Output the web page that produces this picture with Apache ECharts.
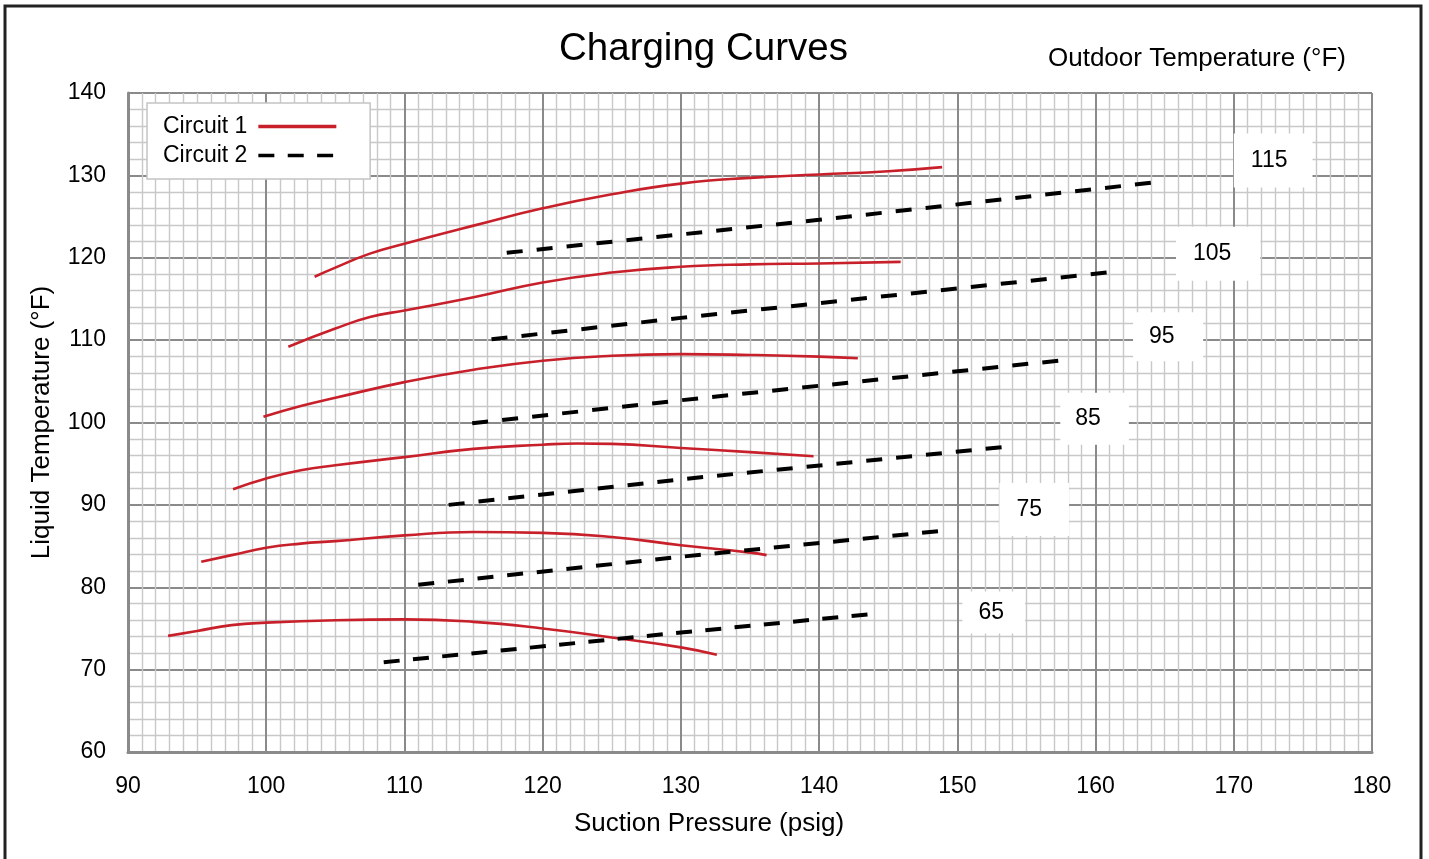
<!DOCTYPE html>
<html>
<head>
<meta charset="utf-8">
<script src="https://cdn.jsdelivr.net/npm/echarts@6/dist/echarts.min.js"></script>
<style>html,body{margin:0;padding:0;background:#fff;}#c{width:1429px;height:859px;}</style>
</head>
<body>
<div id="c"></div>
<script>
// Outdoor temperatures (°F)
const temps = ['65','75','85','95','105','115'];

// Circuit 1 curves: [suction pressure psig, liquid temperature °F]
const c1_65  = [[92.9,74.1],[95,74.7],[97.5,75.4],[100,75.7],[105,76.0],[110,76.1],[115,75.8],[120,75.0],[125,73.9],[130,72.7],[132.6,71.8]];
const c1_75  = [[95.3,83.1],[97.5,83.9],[100,84.8],[102.5,85.3],[105,85.6],[110,86.3],[115,86.7],[120,86.6],[125,86.1],[130,85.1],[135,84.2],[136.2,83.9]];
const c1_85  = [[97.6,91.9],[100,93.2],[102.5,94.2],[105,94.8],[110,95.8],[115,96.8],[120,97.3],[122.5,97.45],[125,97.4],[130,96.9],[135,96.4],[139.6,95.9]];
const c1_95  = [[99.8,100.7],[102.5,102.0],[105,103.0],[110,104.9],[115,106.4],[120,107.5],[125,108.1],[130,108.3],[135,108.2],[140,108.0],[142.8,107.8]];
const c1_105 = [[101.6,109.2],[105,111.4],[107.5,112.8],[110,113.6],[115,115.2],[120,117.0],[125,118.2],[130,118.9],[135,119.2],[140,119.3],[145.9,119.5]];
const c1_115 = [[103.5,117.7],[105,118.8],[107.5,120.5],[110,121.7],[115,123.9],[120,126.0],[125,127.7],[130,129.0],[135,129.7],[140,130.1],[145,130.5],[148.9,131.0]];

// Circuit 2 lines
const c2_65  = [[108.5,70.9],[130,74.5],[143.5,76.7]];
const c2_75  = [[111.0,80.3],[130,83.7],[148.6,86.8]];
const c2_85  = [[113.2,90.0],[130,93.1],[153.2,97.0]];
const c2_95  = [[114.9,99.9],[130,102.7],[157.3,107.5]];
const c2_105 = [[116.3,110.1],[130,112.7],[160.8,118.2]];
const c2_115 = [[117.4,120.6],[140,124.6],[164.0,129.1]];

// Temperature tag anchors in data coordinates (pressure, temperature)
const tagX = [152.63,155.56,159.93,165.25,168.87,172.85];
const tagY = [76.93,89.43,100.47,110.42,120.50,131.82];

const xTicks = [90,100,110,120,130,140,150,160,170,180];
const yTicks = [60,70,80,90,100,110,120,130,140];

const circuit1 = [c1_65,c1_75,c1_85,c1_95,c1_105,c1_115];
const circuit2 = [c2_65,c2_75,c2_85,c2_95,c2_105,c2_115];

const FONT = 'Liberation Sans, Arial, Helvetica, sans-serif';
const RED = '#c8202a';
const DASH = 16, PERIOD = 29.5;
const pads = [[11.5,21,7.5,16],[11.5,27,18.5,17],[8.5,28,20.5,15],[12.5,28.5,13.5,16],[11.5,29,19.5,17],[11,25,20,17]];

const series = [];
circuit1.forEach(d => series.push({
  name:'Circuit 1', type:'line', data:d, smooth:0.5, symbol:'none',
  lineStyle:{color:RED, width:2.6}, itemStyle:{color:RED}, z:3
}));
circuit2.forEach(d => series.push({
  name:'Circuit 2', type:'line', data:d, symbol:'none',
  lineStyle:{color:'#000', width:4, type:[DASH, PERIOD-DASH]}, itemStyle:{color:'#000'}, z:4
}));
series.push({
  type:'scatter', symbolSize:1, itemStyle:{color:'rgba(0,0,0,0)', opacity:1}, silent:true, z:5,
  data: temps.map((t,i)=>({
    value:[tagX[i],tagY[i]],
    label:{show:true, position:'inside', formatter:t, color:'#000', fontSize:23, lineHeight:23,
      fontFamily:FONT, backgroundColor:'#fff', padding:pads[i], opacity:1}
  }))
});

const chart = echarts.init(document.getElementById('c'), null, {renderer:'canvas'});
const option = {
  animation:false,
  backgroundColor:'#fff',
  textStyle:{fontFamily:FONT},
  title:[
    {text:'Charging Curves', left:554, top:25, textStyle:{fontSize:38.5, fontWeight:'normal', color:'#000', fontFamily:FONT}},
    {text:'Outdoor Temperature (°F)', left:1043, top:41, textStyle:{fontSize:26, fontWeight:'normal', color:'#000', fontFamily:FONT}}
  ],
  legend:{
    data:['Circuit 1','Circuit 2'], orient:'vertical', left:147, top:103,
    align:'right', itemWidth:78, itemHeight:14, itemGap:6,
    backgroundColor:'#fff', borderColor:'#c4c4c4', borderWidth:1.5,
    padding:[12,32,12,16],
    itemStyle:{opacity:0},
    lineStyle:{width:3.6},
    textStyle:{fontSize:23, color:'#000', fontFamily:FONT, padding:[0,6,0,0]}
  },
  grid:{left:128, right:57, top:93, bottom:107},
  xAxis:{
    type:'value', min:90, max:180, interval:10,
    name:'Suction Pressure (psig)', nameLocation:'middle', nameGap:59,
    nameTextStyle:{fontSize:26, color:'#000', fontFamily:FONT, padding:[0,82,0,0]},
    axisLine:{show:true, lineStyle:{color:'#8a8a8a', width:3}},
    axisTick:{show:false},
    axisLabel:{fontSize:23, color:'#000', margin:23, fontFamily:FONT},
    splitLine:{show:true, lineStyle:{color:'#8a8a8a', width:2}},
    minorTick:{show:false, splitNumber:10},
    minorSplitLine:{show:true, lineStyle:{color:'#c8c8c8', width:1.4}}
  },
  yAxis:{
    type:'value', min:60, max:140, interval:10,
    name:'Liquid Temperature (°F)', nameLocation:'middle', nameGap:73,
    nameTextStyle:{fontSize:26, color:'#000', fontFamily:FONT},
    axisLine:{show:true, lineStyle:{color:'#8a8a8a', width:3}},
    axisTick:{show:false},
    axisLabel:{fontSize:23, color:'#000', margin:22, fontFamily:FONT, padding:[4,0,0,0]},
    splitLine:{show:true, lineStyle:{color:'#8a8a8a', width:2}},
    minorTick:{show:false, splitNumber:5},
    minorSplitLine:{show:true, lineStyle:{color:'#c8c8c8', width:1.4}}
  },
  graphic:[{
    type:'rect', shape:{x:5, y:6, width:1416, height:900},
    style:{fill:'none', stroke:'#222', lineWidth:3}, silent:true, z:100
  }],
  series:series
};
chart.setOption(option);

// Fit the dash period of each Circuit 2 line so it starts and ends on a full dash
const dashUpdates = circuit2.map((d) => {
  let L = 0;
  for (let k = 1; k < d.length; k++) {
    const a = chart.convertToPixel({gridIndex:0}, d[k-1]);
    const b = chart.convertToPixel({gridIndex:0}, d[k]);
    L += Math.hypot(b[0]-a[0], b[1]-a[1]);
  }
  const n = Math.max(1, Math.round((L - DASH) / PERIOD));
  const p = (L - DASH) / n;
  return {lineStyle:{type:[DASH, p - DASH]}};
});
chart.setOption({series: series.map((s, i) => (i >= 6 && i < 12) ? dashUpdates[i-6] : {})});
</script>
</body>
</html>
